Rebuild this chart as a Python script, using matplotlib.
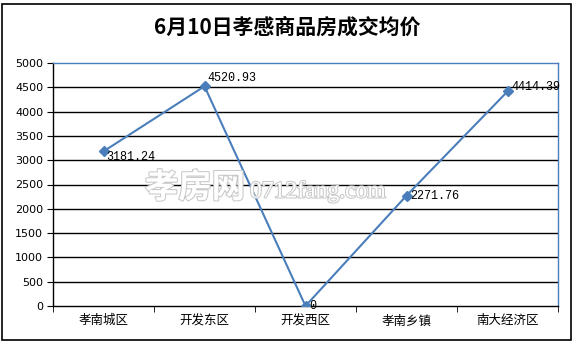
import matplotlib
matplotlib.use("Agg")
import matplotlib.pyplot as plt
from matplotlib.patches import Rectangle
import matplotlib.patheffects as pe

plt.rcParams['font.family'] = ['Noto Sans CJK SC', 'DejaVu Sans']

categories = ['孝南城区', '开发东区', '开发西区', '孝南乡镇', '南大经济区']
values = [3181.24, 4520.93, 0, 2271.76, 4414.39]
label_texts = ['3181.24', '4520.93', '0', '2271.76', '4414.39']
yticks = [0, 500, 1000, 1500, 2000, 2500, 3000, 3500, 4000, 4500, 5000]

W, H = 575, 344
fig = plt.figure(figsize=(W/100, H/100), dpi=100)
fig.patch.set_facecolor('white')
fig.patches.append(Rectangle((2/W, 4/H), (W-6)/W, (H-8)/H, transform=fig.transFigure,
                             fill=False, edgecolor='black', linewidth=1.2))

ax = fig.add_axes([53/W, (H-306)/H, (558-53)/W, (306-63)/H])
x = list(range(len(categories)))
line_color = '#4a7ebb'
ax.plot(x, values, color=line_color, linewidth=1.5, marker='D', markersize=5,
        markerfacecolor=line_color, markeredgecolor=line_color, zorder=5)

ax.set_xlim(-0.5, len(categories) - 0.5)
ax.set_ylim(0, 5000)
ax.set_yticks(yticks)
ax.set_yticklabels([str(v) for v in yticks], fontsize=8, family=['DejaVu Sans'])
ax.set_xticks(x)
ax.set_xticklabels(categories, fontsize=9)
ax.set_xticks([i - 0.5 for i in range(len(categories) + 1)], minor=True)
ax.tick_params(axis='x', which='major', length=0, pad=6)
ax.tick_params(axis='x', which='minor', length=4, direction='out', color='black')
ax.tick_params(axis='y', length=4, direction='out', color='black', pad=3)

for yv in yticks[1:-1]:
    ax.axhline(yv, color='black', linewidth=1.0, zorder=1)

ax.spines['left'].set_color('black')
ax.spines['bottom'].set_color('black')
ax.spines['top'].set_color(line_color)
ax.spines['right'].set_color(line_color)
for s in ax.spines.values():
    s.set_linewidth(1.0)

offsets = [(2, -4), (2, 6), (3, 0), (3, 0), (3, 3)]
for xi, v, t, (dx, dy) in zip(x, values, label_texts, offsets):
    ax.annotate(t, (xi, v), xytext=(dx, dy), textcoords='offset points',
                ha='left', va='center', fontsize=8.5, family=['Liberation Mono'], zorder=6)

# watermark
fig.text(145/W, (H-188)/H, '孝房网', fontsize=24, color='white', fontweight='bold',
         va='center', ha='left', zorder=10,
         path_effects=[pe.withStroke(linewidth=1.5, foreground='#c8c8c8')])
fig.text(250/W, (H-192)/H, '0712fang.com', fontsize=17, color='white',
         family=['Liberation Serif'], va='center', ha='left', zorder=10,
         path_effects=[pe.withStroke(linewidth=1.5, foreground='#c8c8c8')])

fig.text(0.5, (H-27)/H, '6月10日孝感商品房成交均价', fontsize=15, fontweight='bold',
         ha='center', va='center')

fig.savefig('out.png', dpi=100)
